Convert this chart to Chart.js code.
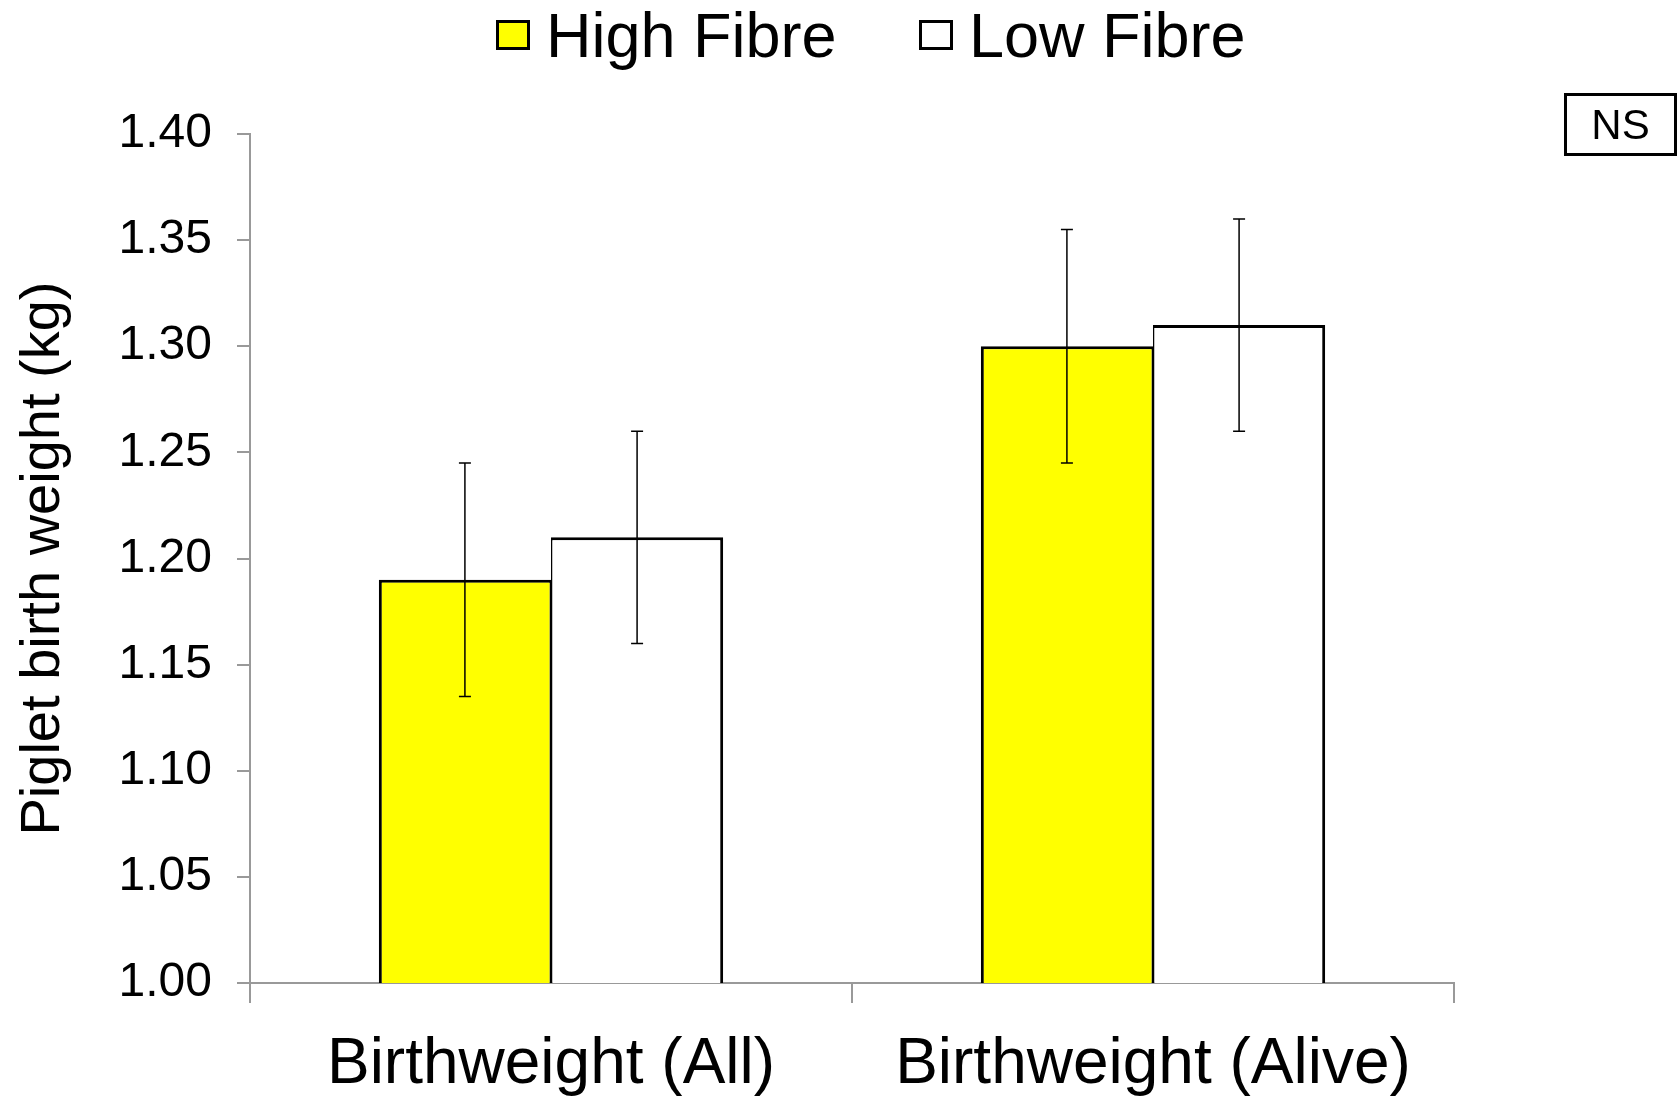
<!DOCTYPE html>
<html>
<head>
<meta charset="utf-8">
<script src="https://cdn.jsdelivr.net/npm/chart.js@4/dist/chart.umd.min.js"></script>
<style>
  body { margin: 0; background: #fff; font-family: "Liberation Sans", Arial, sans-serif; }
  #wrap { position: relative; width: 1679px; height: 1096px; }
  .leg { position: absolute; top: 0; height: 70px; display: flex; align-items: center; font-size: 63px; color: #000; white-space: nowrap; }
  .leg .box { width: 28px; height: 24px; border: 3px solid #000; margin-right: 16px; }
  #ns { position: absolute; left: 1564px; top: 93px; width: 107px; height: 57px; border: 3px solid #000;
        font-size: 42px; line-height: 57px; text-align: center; color: #000; }
</style>
</head>
<body>
<div id="wrap">
  <canvas id="myChart" width="1679" height="1096"></canvas>
  <div id="legend"></div>
  <div id="ns">NS</div>
</div>
<script>
var categories = ["Birthweight (All)", "Birthweight (Alive)"];
var seriesNames = ["High Fibre", "Low Fibre"];
var seriesColors = ["#FFFF00", "#FFFFFF"];
var highFibre = [1.19, 1.30];
var lowFibre = [1.21, 1.31];
var highFibreErr = [0.055, 0.055];
var lowFibreErr = [0.05, 0.05];
var yTicks = [1.00, 1.05, 1.10, 1.15, 1.20, 1.25, 1.30, 1.35, 1.40];

var errors = [highFibreErr, lowFibreErr];

// legend as html, built from the series
var legendLeft = [496, 919];
var legendEl = document.getElementById('legend');
seriesNames.forEach(function (name, i) {
    var item = document.createElement('div');
    item.className = 'leg';
    item.style.left = legendLeft[i] + 'px';
    item.innerHTML = '<div class="box" style="background:' + seriesColors[i] + '"></div><span>' + name + '</span>';
    legendEl.appendChild(item);
});

var errorBars = {
    id: 'errorBars',
    afterDatasetsDraw: function (chart) {
        var ctx = chart.ctx;
        var y = chart.scales.y;
        ctx.save();
        ctx.strokeStyle = '#000';
        ctx.lineWidth = 1.5;
        chart.data.datasets.forEach(function (ds, i) {
            var meta = chart.getDatasetMeta(i);
            meta.data.forEach(function (bar, j) {
                var v = ds.data[j], e = errors[i][j];
                var top = y.getPixelForValue(v + e);
                var bot = y.getPixelForValue(v - e);
                ctx.beginPath();
                ctx.moveTo(bar.x, top); ctx.lineTo(bar.x, bot);
                ctx.moveTo(bar.x - 6, top); ctx.lineTo(bar.x + 6, top);
                ctx.moveTo(bar.x - 6, bot); ctx.lineTo(bar.x + 6, bot);
                ctx.stroke();
            });
        });
        ctx.restore();
    }
};

Chart.defaults.font.family = '"Liberation Sans", Arial, sans-serif';
Chart.defaults.color = '#000';

var ctx = document.getElementById("myChart");
var myChart = new Chart(ctx, {
    type: 'bar',
    data: {
        labels: categories,
        datasets: [
            {
                label: seriesNames[0],
                data: highFibre,
                backgroundColor: seriesColors[0],
                borderColor: '#000',
                borderWidth: { top: 3, left: 3, right: 1.5, bottom: 0 }
            },
            {
                label: seriesNames[1],
                data: lowFibre,
                backgroundColor: seriesColors[1],
                borderColor: '#000',
                borderWidth: { top: 3, left: 1.5, right: 3, bottom: 0 }
            }]
    },
    options: {
        responsive: false,
        animation: false,
        layout: { padding: { top: 134, right: 225, left: 0, bottom: 0 } },
        datasets: { bar: { categoryPercentage: 0.572, barPercentage: 1.0 } },
        plugins: {
            legend: { display: false },
            tooltip: { enabled: false }
        },
        scales: {
            x: {
                grid: { display: true, drawOnChartArea: false, tickLength: 20, color: '#999', lineWidth: 2 },
                border: { color: '#999', width: 2 },
                ticks: { font: { size: 64 }, color: '#000', padding: 24 },
                afterFit: function (scale) { scale.height = 113; }
            },
            y: {
                min: 1.0,
                max: 1.4,
                afterBuildTicks: function (scale) {
                    scale.ticks = yTicks.map(function (v) { return { value: v }; });
                },
                grid: { display: true, drawOnChartArea: false, tickLength: 13, color: '#999', lineWidth: 2 },
                border: { color: '#999', width: 2 },
                ticks: {
                    font: { size: 48 },
                    color: '#000',
                    padding: 25,
                    callback: function (v) { return Number(v).toFixed(2); }
                },
                title: {
                    display: true,
                    text: 'Piglet birth weight (kg)',
                    font: { size: 56 },
                    color: '#000',
                    padding: { top: 10, bottom: 10 }
                },
                afterFit: function (scale) { scale.width = 250; }
            }
        }
    },
    plugins: [errorBars]
});
</script>
</body>
</html>
